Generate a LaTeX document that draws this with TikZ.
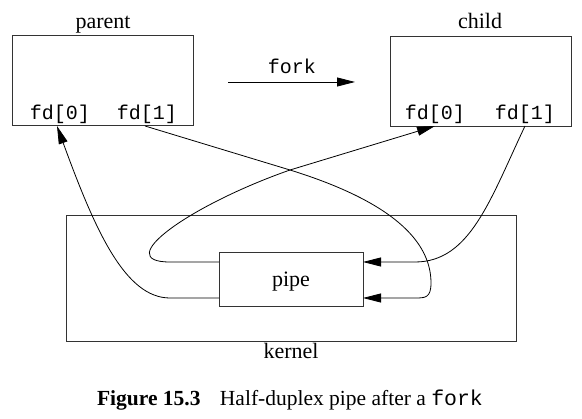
\documentclass[tikz,border=0pt]{standalone}
\usepackage{fontspec}
\setmainfont{Liberation Serif}
\setmonofont{Liberation Mono}
\usetikzlibrary{arrows.meta,calc}
\tikzset{
  box/.style={draw=black!80, line width=1pt, rectangle, inner sep=0pt, outer sep=0pt},
  lbl/.style={font=\fontsize{22}{26}\selectfont, inner sep=0pt},
  mono/.style={font=\fontsize{20}{24}\selectfont\ttfamily, inner sep=0pt},
  capt/.style={font=\fontsize{21.5}{25}\selectfont, inner sep=0pt},
  conn/.style={line width=0.8pt, black},
  tip/.style={-{Triangle[length=18pt,width=9pt]}}
}
\begin{document}
\begin{tikzpicture}[x=1pt,y=-1pt]
\useasboundingbox (0,0) rectangle (582,419);
% process boxes
\node[box, minimum width=181pt, minimum height=90pt] (parent) at (102.5,81) {};
\node[box, minimum width=181pt, minimum height=90pt] (child) at (480.5,81.5) {};
\node[lbl, anchor=base] (plabel) at (103,29) {parent};
\node[lbl, anchor=base] (clabel) at (480,29) {child};
\node[mono, anchor=base] (p0) at (60,120) {fd[0]};
\node[mono, anchor=base] (p1) at (147,120) {fd[1]};
\node[mono, anchor=base] (c0) at (435,120) {fd[0]};
\node[mono, anchor=base] (c1) at (525,120) {fd[1]};
% fork arrow
\node[mono, anchor=base] (fork) at (292,74) {fork};
\coordinate (fs) at (228,82);
\coordinate (fe) at (355,82);
\draw[conn, tip] (fs) -- (fe);
% kernel and pipe
\node[box, minimum width=450pt, minimum height=126pt] (kernel) at (291,279) {};
\node[lbl, anchor=base] (klabel) at (291,359) {kernel};
\node[box, minimum width=144pt, minimum height=54pt] (pipe) at (291,280) {};
\node[lbl, anchor=base] (plbl) at (291,287) {pipe};
% ports
\coordinate (pwu) at ($(pipe.west)+(0,-18)$);
\coordinate (pwl) at ($(pipe.west)+(0,18)$);
\coordinate (peu) at ($(pipe.east)+(0,-18)$);
\coordinate (pel) at ($(pipe.east)+(0,18)$);
\coordinate (p0in) at (57,126);
\coordinate (p1out) at (145,126);
\coordinate (c0in) at (435,126);
\coordinate (c1out) at (525,126);
\coordinate (cross) at (290,170);
% connectors
\draw[conn, tip] (pwl) -- (170,298) .. controls (125,298) and (95,230) .. (p0in);
\draw[conn, tip] (pwu) -- (170,262) .. controls (110,262) and (190,205) .. (cross) -- (c0in);
\draw[conn, tip] (p1out) -- (cross) .. controls (390,201) and (431,240) .. (431,283) .. controls (431,298) and (425,298) .. (415,298) -- (pel);
\draw[conn, tip] (c1out) .. controls (490,200) and (470,262) .. (415,262) -- (peu);
% caption
\node[capt, anchor=base] (cap) at (290,406) {\textbf{Figure 15.3}\hspace{0.9em}Half-duplex pipe after a \texttt{fork}};
\end{tikzpicture}
\end{document}
